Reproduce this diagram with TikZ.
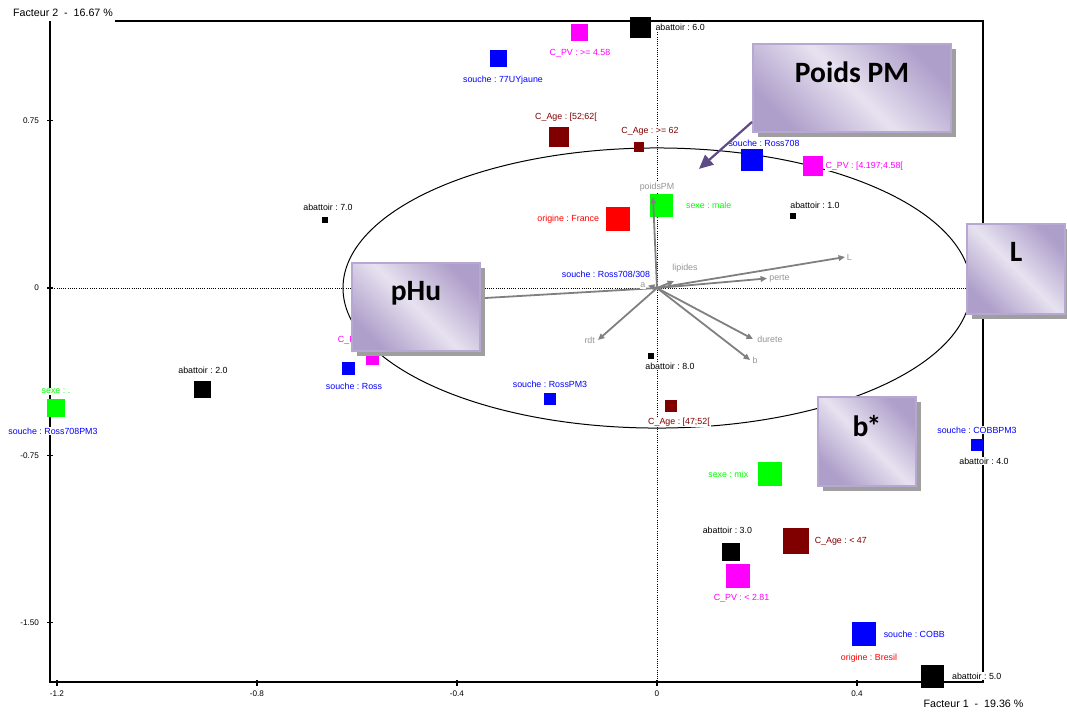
\documentclass[tikz,border=0pt]{standalone}
\usepackage{fontspec}
\setmainfont{Liberation Sans}
\newfontfamily\calloutfont{Carlito}
\usetikzlibrary{positioning,arrows.meta,shadows}
\frenchspacing

\definecolor{agecol}{RGB}{128,0,0}
\definecolor{pvcol}{RGB}{255,0,255}
\definecolor{veccol}{RGB}{128,128,128}
\definecolor{veclabcol}{RGB}{150,150,150}
\definecolor{lavlight}{RGB}{231,226,240}
\definecolor{lavdark}{RGB}{174,158,202}
\definecolor{lavborder}{RGB}{182,168,208}
\definecolor{pointercol}{RGB}{94,75,134}

\begin{document}
\begin{tikzpicture}[x=12.5cm, y=5.575cm,
  sqbox/.style={rectangle, inner sep=0pt, minimum size=#1},
  lab/.style={font=\fontsize{6.3}{7}\selectfont, inner sep=0.6pt, fill=white},
  ticklab/.style={font=\fontsize{5.8}{7}\selectfont, inner sep=0.5pt},
  axtitle/.style={font=\fontsize{7.6}{9}\selectfont, inner sep=0.5pt},
  vec/.style={draw=veccol, line width=0.45mm, -{Triangle[length=1.6mm, width=1.4mm]}},
  veclab/.style={lab, text=veclabcol},
  callout/.style={rectangle, draw=lavborder, line width=0.6mm,
    top color=lavdark, bottom color=lavdark, middle color=lavlight, shading angle=-45,
    drop shadow={shadow xshift=1.2mm, shadow yshift=-1.2mm, fill=gray!75, opacity=1}},
  calloutlab/.style={anchor=north, yshift=-4.7mm, inner sep=0pt,
    font=\calloutfont\bfseries\fontsize{21}{24}\selectfont},
  pointer/.style={draw=pointercol, line width=0.55mm, -{Triangle[length=3.5mm, width=3.2mm]}}]
  \useasboundingbox (-1.314,1.2915) rectangle (0.82,-1.8969);

  \draw[line width=0.35mm] (-1.084,1.197) -- (0.652,1.197) -- (0.652,-1.767) -- (-1.214,-1.767) -- (-1.214,1.197);
  \draw[densely dotted, line width=0.2mm] (-1.214,0) -- (0.652,0);
  \draw[densely dotted, line width=0.2mm] (0,1.197) -- (0,-1.767);
  \foreach \yv/\ytxt [count=\i] in {0.75/0.75, 0/0, -0.75/-0.75, -1.5/-1.50} {
    \draw[line width=0.3mm] (-1.219,\yv) -- (-1.208,\yv);
    \node[ticklab, anchor=east] (yt\i) at (-1.234,\yv) {\ytxt};
  }
  \foreach \xv [count=\i] in {-1.2,-0.8,-0.4,0,0.4} {
    \draw[line width=0.3mm] (\xv,-1.758) -- (\xv,-1.785);
    \node[ticklab] (xt\i) at (\xv,-1.82) {\xv};
  }
  \node[axtitle] (f2) at (-1.188,1.233) {Facteur 2~~-~~16.67~\%};
  \node[axtitle] (f1) at (0.633,-1.865) {Facteur 1~~-~~19.36~\%};

  \draw[line width=0.25mm] (0,0) ellipse [x radius=0.628, y radius=0.628];

  \node[sqbox=5.25mm, fill=black] (ab6) at (-0.034,1.170) {};
  \node[lab, right=0.9mm of ab6] (ab6l) {abattoir : 6.0};
  \node[sqbox=4.25mm, fill=pvcol] (pv458) at (-0.154,1.148) {};
  \node[lab, text=pvcol, below=1.8mm of pv458] (pv458l) {C\_PV : >= 4.58};
  \node[sqbox=4.25mm, fill=blue] (s77) at (-0.316,1.027) {};
  \node[lab, text=blue, below=1.8mm of s77, xshift=1mm] (s77l) {souche : 77UYjaune};
  \node[sqbox=5mm, fill=agecol] (age5262) at (-0.196,0.677) {};
  \node[lab, text=agecol, above=1.1mm of age5262, xshift=1.75mm] (age5262l) {C\_Age : [52;62[};
  \node[sqbox=2.5mm, fill=agecol] (age62) at (-0.036,0.632) {};
  \node[lab, text=agecol, above=1.3mm of age62, xshift=2.75mm] (age62l) {C\_Age : >= 62};
  \node[sqbox=5.5mm, fill=blue] (r708) at (0.190,0.574) {};
  \node[lab, text=blue, above=0.3mm of r708, xshift=3mm] (r708l) {souche : Ross708};
  \node[sqbox=5mm, fill=pvcol] (pv4197) at (0.312,0.547) {};
  \node[lab, text=pvcol, right=0.3mm of pv4197] (pv4197l) {C\_PV : [4.197;4.58[};
  \node[sqbox=5.75mm, fill=green] (male) at (0.010,0.372) {};
  \node[lab, text=green, right=2.8mm of male] (malel) {sexe : male};
  \node[sqbox=6mm, fill=red] (france) at (-0.078,0.309) {};
  \node[lab, text=red, left=1.4mm of france] (francel) {origine : France};
  \node[sqbox=1.6mm, fill=black] (ab1) at (0.272,0.323) {};
  \node[lab, above=0.6mm of ab1, xshift=5.5mm] (ab1l) {abattoir : 1.0};
  \node[sqbox=1.6mm, fill=black] (ab7) at (-0.664,0.305) {};
  \node[lab, above=1.3mm of ab7, xshift=0.75mm] (ab7l) {abattoir : 7.0};
  \node[lab, text=blue] (r708308l) at (-0.102,0.063) {souche : Ross708/308};
  \node[sqbox=1.6mm, fill=black] (ab8) at (-0.012,-0.305) {};
  \node[lab, below=0.6mm of ab8, xshift=4.75mm] (ab8l) {abattoir : 8.0};
  \node[sqbox=3mm, fill=blue] (rpm3) at (-0.214,-0.498) {};
  \node[lab, text=blue, above=0.9mm of rpm3] (rpm3l) {souche : RossPM3};
  \node[sqbox=3mm, fill=agecol] (age4752) at (0.028,-0.529) {};
  \node[lab, text=agecol, below=1.1mm of age4752, xshift=2mm] (age4752l) {C\_Age : [47;52[};
  \node[sqbox=3.25mm, fill=pvcol] (pvmid) at (-0.568,-0.314) {};
  \node[lab, text=pvcol, above=1.5mm of pvmid, xshift=0.9mm] (pvmidl) {C\_PV : [2.81;4.197[};
  \node[sqbox=3.25mm, fill=blue] (ross) at (-0.616,-0.359) {};
  \node[lab, text=blue, below=1.7mm of ross, xshift=1.25mm] (rossl) {souche : Ross};
  \node[sqbox=4.25mm, fill=black] (ab2) at (-0.908,-0.453) {};
  \node[lab, above=1.5mm of ab2] (ab2l) {abattoir : 2.0};
  \node[sqbox=4.5mm, fill=green] (sexedot) at (-1.202,-0.538) {};
  \node[lab, text=green, above=0.9mm of sexedot] (sexedotl) {sexe : .};
  \node[lab, text=blue, below=2.3mm of sexedot, xshift=-0.75mm] (r708pm3l) {souche : Ross708PM3};
  \node[sqbox=3mm, fill=blue] (cobbpm3) at (0.640,-0.704) {};
  \node[lab, text=blue, above=1.1mm of cobbpm3] (cobbpm3l) {souche : COBBPM3};
  \node[lab, below=1.3mm of cobbpm3, xshift=1.75mm] (ab4l) {abattoir : 4.0};
  \node[sqbox=6mm, fill=green] (mix) at (0.226,-0.834) {};
  \node[lab, text=green, left=2.1mm of mix] (mixl) {sexe : mix};
  \node[sqbox=6.5mm, fill=agecol] (age47) at (0.278,-1.135) {};
  \node[lab, text=agecol, right=1.1mm of age47] (age47l) {C\_Age : < 47};
  \node[sqbox=4.5mm, fill=black] (ab3) at (0.148,-1.184) {};
  \node[lab, above=1.9mm of ab3, xshift=-0.9mm] (ab3l) {abattoir : 3.0};
  \node[sqbox=6mm, fill=pvcol] (pv281) at (0.162,-1.291) {};
  \node[lab, text=pvcol, below=1.3mm of pv281, xshift=0.9mm] (pv281l) {C\_PV : < 2.81};
  \node[sqbox=6mm, fill=blue] (cobb) at (0.414,-1.552) {};
  \node[lab, text=blue, right=1.6mm of cobb] (cobbl) {souche : COBB};
  \node[lab, text=red, below=1.6mm of cobb, xshift=1.25mm] (bresill) {origine : Bresil};
  \node[sqbox=5.75mm, fill=black] (ab5) at (0.550,-1.740) {};
  \node[lab, right=1.8mm of ab5] (ab5l) {abattoir : 5.0};

  \coordinate (O) at (0,0);
  \coordinate (vphu) at (-0.514,-0.067);
  \coordinate (vpoids) at (-0.008,0.408);
  \coordinate (vL) at (0.376,0.139);
  \coordinate (vperte) at (0.220,0.043);
  \coordinate (vlip) at (0.034,0.031);
  \coordinate (va) at (-0.018,0.011);
  \coordinate (vrdt) at (-0.118,-0.233);
  \coordinate (vdur) at (0.192,-0.229);
  \coordinate (vb) at (0.186,-0.323);
  \draw[vec] (O) -- (vphu);
  \draw[vec] (O) -- (vpoids);
  \node[veclab, above=1.2mm of vpoids, xshift=1mm] (vpoidsl) {poidsPM};
  \draw[vec] (O) -- (vL);
  \node[veclab, right=0.2mm of vL] (vLl) {L};
  \draw[vec] (O) -- (vperte);
  \node[veclab, right=0.3mm of vperte] (vpertel) {perte};
  \draw[vec] (O) -- (vlip);
  \node[veclab, above=1.9mm of vlip, xshift=2.75mm] (vlipl) {lipides};
  \draw[vec] (O) -- (va);
  \node[veclab, left=0.4mm of va] (val) {a};
  \draw[vec] (O) -- (vrdt);
  \node[veclab, left=0.5mm of vrdt] (vrdtl) {rdt};
  \draw[vec] (O) -- (vdur);
  \node[veclab, right=0.8mm of vdur] (vdurl) {durete};
  \draw[vec] (O) -- (vb);
  \node[veclab, right=0.4mm of vb] (vbl) {b};

  \node[callout, minimum width=49.4mm, minimum height=21.9mm,
    label={[calloutlab]north:Poids PM}] (poids) at (0.39,0.897) {};
  \node[callout, minimum width=31.9mm, minimum height=21.9mm,
    label={[calloutlab]north:pHu}] (phu) at (-0.482,-0.085) {};
  \node[callout, minimum width=24.4mm, minimum height=22.4mm,
    label={[calloutlab]north:L}] (lbox) at (0.718,0.085) {};
  \node[callout, minimum width=24.4mm, minimum height=22.15mm,
    label={[calloutlab]north:b\kern-0.06em*}] (bstar) at (0.42,-0.688) {};
  \coordinate (ptip) at (0.084,0.534);
  \draw[pointer] ([yshift=2.75mm]poids.south west) -- (ptip);
\end{tikzpicture}
\end{document}
